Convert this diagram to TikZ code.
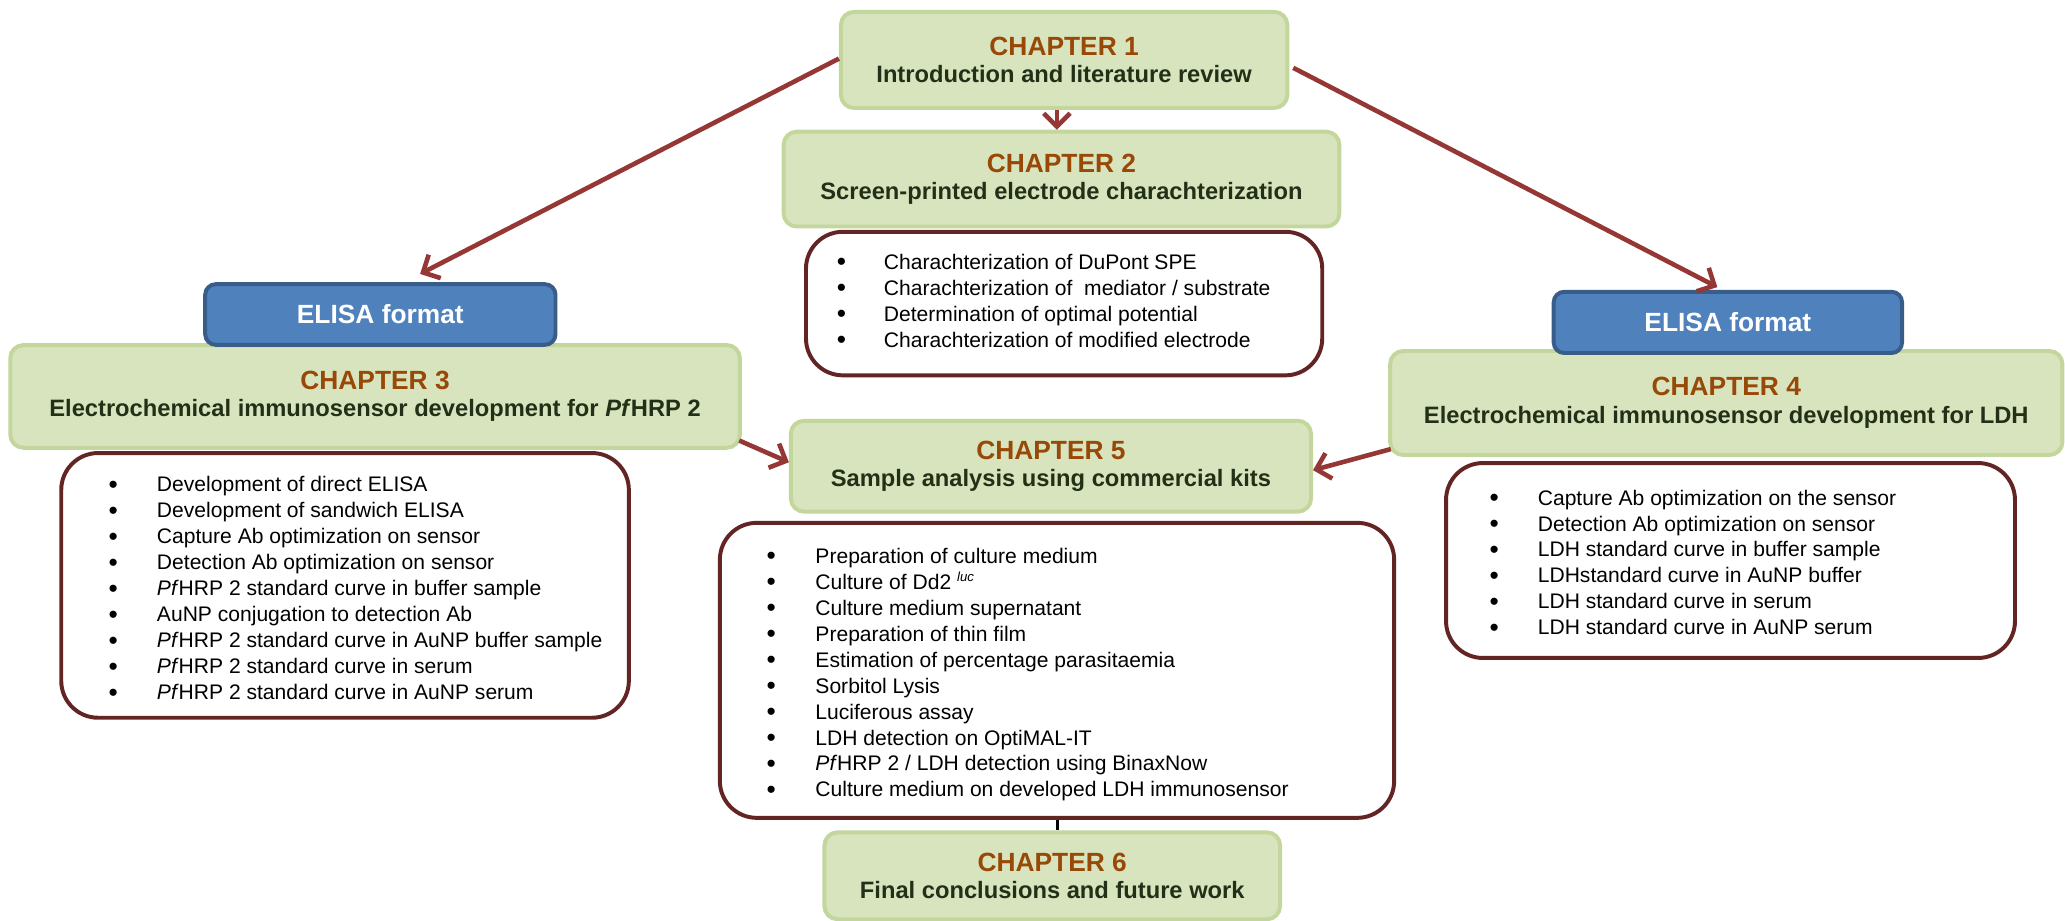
\documentclass[tikz,border=0pt]{standalone}
\usepackage{fontspec}
\setmainfont{Liberation Sans}
\usetikzlibrary{arrows.meta,calc}
\definecolor{gfill}{HTML}{D7E4BD}
\definecolor{gline}{HTML}{C3D69B}
\definecolor{chapc}{HTML}{984807}
\definecolor{subc}{HTML}{233018}
\definecolor{listc}{HTML}{632523}
\definecolor{arrc}{HTML}{953735}
\definecolor{bfill}{HTML}{4F81BD}
\definecolor{bline}{HTML}{385D8A}
\newcommand\chapt[2]{{\fontsize{20}{22}\selectfont\color{chapc}#1}\\#2}
\begin{document}
\begin{tikzpicture}[x=1pt,y=-1pt,
 chapbox/.style={draw=gline,fill=gfill,line width=3pt,rounded corners=10pt,inner sep=0pt,align=center,text=subc,font=\fontsize{18}{21}\selectfont\bfseries},
 listbox/.style={draw=listc,fill=white,line width=3pt,rounded corners=28pt,inner sep=0pt},
 elisabox/.style={draw=bline,fill=bfill,line width=3pt,rounded corners=8pt,inner sep=0pt,text=white,font=\fontsize{20}{24}\selectfont\bfseries},
 item/.style={anchor=base west,inner sep=0pt,font=\fontsize{16}{19.7}\selectfont},
 bul/.style={anchor=base,inner sep=0pt,font=\fontsize{20}{19.7}\selectfont},
 arr/.style={draw=arrc,line width=3.5pt,-{Straight Barb[length=10pt,width=20pt]}},
 tick/.style={draw=black,line width=2.2pt}
]
\useasboundingbox (0,0) rectangle (1568,699);

% chapter boxes
\node[chapbox,minimum width=339pt,minimum height=73pt] (ch1) at (808,45.5)
  {\chapt{CHAPTER 1}{Introduction and literature review}};
\node[chapbox,minimum width=422pt,minimum height=72pt] (ch2) at (806,136)
  {\chapt{CHAPTER 2}{Screen-printed electrode charachterization}};
\node[listbox,minimum width=392pt,minimum height=109pt] (l2) at (808,230.5) {};

\node[chapbox,minimum width=554pt,minimum height=78pt] (ch3) at (284.8,301)
  {\chapt{CHAPTER 3}{Electrochemical immunosensor development for \textit{Pf}HRP 2}};
\node[elisabox,minimum width=266pt,minimum height=46pt] (el) at (288.8,238.8) {ELISA format};
\node[listbox,minimum width=431pt,minimum height=201pt] (l3) at (262,444.5) {};

\node[chapbox,minimum width=510.5pt,minimum height=79pt] (ch4) at (1310.8,306)
  {\chapt{CHAPTER 4}{Electrochemical immunosensor development for LDH}};
\node[elisabox,minimum width=264.5pt,minimum height=46.5pt] (er) at (1312,244.8) {ELISA format};
\node[listbox,minimum width=432pt,minimum height=148pt] (l4) at (1314,425.6) {};

\node[chapbox,minimum width=395pt,minimum height=69pt] (ch5) at (798,354)
  {\chapt{CHAPTER 5}{Sample analysis using commercial kits}};
\node[listbox,minimum width=512pt,minimum height=224pt] (l5) at (802.6,509) {};

\node[chapbox,minimum width=346pt,minimum height=66pt] (ch6) at (799,665)
  {\chapt{CHAPTER 6}{Final conclusions and future work}};

% list items
\foreach \t [count=\i] in {Charachterization of DuPont SPE,
  Charachterization of~ mediator / substrate,
  Determination of optimal potential,
  Charachterization of modified electrode}{
  \node[bul] (b2\i) at (639,{205.5+19.7*(\i-1)}) {\textbullet};
  \node[item] (t2\i) at (671,{204.5+19.7*(\i-1)}) {\t};
}
\foreach \t [count=\i] in {Development of direct ELISA,
  Development of sandwich ELISA,
  Capture Ab optimization on sensor,
  Detection Ab optimization on sensor,
  \textit{Pf}HRP 2 standard curve in buffer sample,
  AuNP conjugation to detection Ab,
  \textit{Pf}HRP 2 standard curve in AuNP buffer sample,
  \textit{Pf}HRP 2 standard curve in serum,
  \textit{Pf}HRP 2 standard curve in AuNP serum}{
  \node[bul] (b3\i) at (86,{374.5+19.75*(\i-1)}) {\textbullet};
  \node[item] (t3\i) at (119,{373.5+19.75*(\i-1)}) {\t};
}
\foreach \t [count=\i] in {Capture Ab optimization on the sensor,
  Detection Ab optimization on sensor,
  LDH standard curve in buffer sample,
  LDHstandard curve in AuNP buffer,
  LDH standard curve in serum,
  LDH standard curve in AuNP serum}{
  \node[bul] (b4\i) at (1134.6,{384.5+19.7*(\i-1)}) {\textbullet};
  \node[item] (t4\i) at (1167.5,{383.5+19.7*(\i-1)}) {\t};
}
\foreach \t [count=\i] in {Preparation of culture medium,
  Culture of Dd2 \raisebox{6pt}{\fontsize{10}{10}\selectfont\itshape luc},
  Culture medium supernatant,
  Preparation of thin film,
  Estimation of percentage parasitaemia,
  Sorbitol Lysis,
  Luciferous assay,
  LDH detection on OptiMAL-IT,
  \textit{Pf}HRP 2 / LDH detection using BinaxNow,
  Culture medium on developed LDH immunosensor}{
  \node[bul] (b5\i) at (585.6,{429+19.67*(\i-1)}) {\textbullet};
  \node[item] (t5\i) at (619,{428+19.67*(\i-1)}) {\t};
}

% connectors
\coordinate (tl) at (319,208);
\coordinate (tr) at (1304,218);
\draw[arr] ($(ch1.west)+(0,-1)$) -- (tl);
\draw[arr] ($(ch1.east)+(3,6)$) -- (tr);
\draw[arr] ($(ch1.south)+(-5.5,0)$) -- ($(ch2.north)+(-3.5,0)$);
\draw[arr] ($(ch3.south east)+(-2,-7)$) -- ($(ch5.west)+(0,-3)$);
\draw[arr] ($(ch4.south west)+(2,-6)$) -- ($(ch5.east)+(0,3)$);
\draw[tick] ($(l5.south)+(0.2,0)$) -- ($(ch6.north)+(3.8,0)$);
\end{tikzpicture}
\end{document}
